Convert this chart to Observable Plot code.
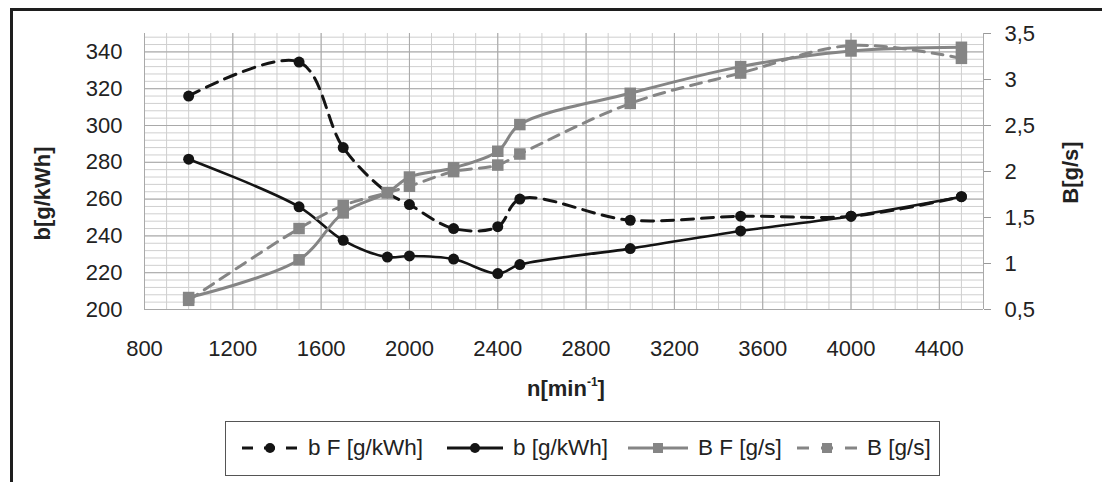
<!DOCTYPE html>
<html>
<head>
<meta charset="utf-8">
<script src="https://cdn.jsdelivr.net/npm/d3@7"></script>
<script src="https://cdn.jsdelivr.net/npm/@observablehq/plot@0.6"></script>
<style>
  body { margin: 0; background: #fff; font-family: "Liberation Sans", Arial, sans-serif; }
  #wrap { position: relative; width: 1102px; height: 482px; overflow: hidden; background: #fff; }
  #frame { position: absolute; left: 10px; top: 8px; width: 1200px; height: 600px;
           border-top: 3px solid #1e1e1e; border-left: 3px solid #1e1e1e; }
  #chart { position: absolute; left: 0; top: 0; }
  #xlabel { position: absolute; left: 466px; width: 200px; top: 376px; text-align: center;
            font-weight: bold; font-size: 22px; color: #222; }
  #xlabel sup { font-size: 12px; position: relative; top: -2px; }
  #legend { position: absolute; left: 225px; top: 421px; width: 715px; height: 55px;
            box-sizing: border-box; border: 1.5px solid #555; background: #fff; }
  .li { position: absolute; top: 0; height: 52px; display: flex; align-items: center;
        font-size: 22.5px; color: #222; white-space: nowrap; }
  .li svg { margin-right: 10px; }
</style>
</head>
<body>
<div id="wrap">
  <div id="frame"></div>
  <div id="chart"></div>
  <div id="xlabel">n[min<sup>-1</sup>]</div>
  <div id="legend"></div>
</div>
<script>
// ---- data ----
const rpm = [1000, 1500, 1700, 1900, 2000, 2200, 2400, 2500, 3000, 3500, 4000, 4500];
const bF  = [316, 334.5, 288, 263.5, 257, 244, 245, 260, 248.5, 250.7, 250.7, 261.3];
const b   = [281.7, 255.8, 237.6, 228.5, 229.1, 227.4, 219.5, 224.4, 233.1, 242.7, 250.7, 261.3];
const BF  = [0.63, 1.04, 1.55, 1.77, 1.94, 2.04, 2.22, 2.51, 2.85, 3.14, 3.31, 3.35];
const B   = [0.60, 1.38, 1.63, 1.77, 1.84, 2.00, 2.07, 2.19, 2.74, 3.07, 3.37, 3.23];

const xTicks = [800, 1200, 1600, 2000, 2400, 2800, 3200, 3600, 4000, 4400];
const leftTicks = [200, 220, 240, 260, 280, 300, 320, 340];
const rightTicks = [0.5, 1, 1.5, 2, 2.5, 3, 3.5];
const rightTickLabels = ["0,5", "1", "1,5", "2", "2,5", "3", "3,5"];
const seriesNames = ["b F [g/kWh]", "b [g/kWh]", "B F [g/s]", "B [g/s]"];
const leftTitle = "b[g/kWh]";
const rightTitle = "B[g/s]";

// secondary axis (B, 0.5..3.5) mapped onto primary (b, 200..350)
const toLeft = v => 200 + (v - 0.5) * 50;

const rows = rpm.map((n, i) => ({ n, bF: bF[i], b: b[i], BF: toLeft(BF[i]), B: toLeft(B[i]) }));

const minorX = d3.range(800, 4601, 100);
const minorY = d3.range(200, 349, 4);

const black = "#141414";
const gray = "#858585";

const chart = Plot.plot({
  width: 1102,
  height: 410,
  marginLeft: 144,
  marginRight: 119,
  marginTop: 33,
  marginBottom: 101,
  x: { domain: [800, 4600] },
  y: { domain: [200, 350] },
  style: { fontFamily: "Liberation Sans, Arial, sans-serif", fontSize: "22px", color: "#222", background: "transparent" },
  marks: [
    Plot.gridX(minorX, { stroke: "#cfcfcf", strokeOpacity: 1, strokeWidth: 1 }),
    Plot.gridY(minorY, { stroke: "#cfcfcf", strokeOpacity: 1, strokeWidth: 1 }),
    Plot.gridX(xTicks.concat([4600]), { stroke: "#a9a9a9", strokeOpacity: 1, strokeWidth: 1 }),
    Plot.gridY(leftTicks, { stroke: "#a9a9a9", strokeOpacity: 1, strokeWidth: 1 }),
    Plot.axisX(xTicks, { tickSize: 0, tickPadding: 31, label: null, tickFormat: d => String(d) }),
    Plot.axisY(leftTicks, { anchor: "left", tickSize: 0, tickPadding: 22, label: null }),
    Plot.axisY(rightTicks.map(toLeft), { anchor: "right", tickSize: 7, stroke: "#999", tickPadding: 14, label: null,
      tickFormat: (d, i) => rightTickLabels[i] }),
    Plot.text([leftTitle], { frameAnchor: "left", textAnchor: "middle", dx: -102, dy: 22, rotate: -90, fontWeight: "bold", fontSize: 22, fill: "#222" }),
    Plot.text([rightTitle], { frameAnchor: "right", textAnchor: "middle", dx: 87, dy: 1, rotate: -90, fontWeight: "bold", fontSize: 22, fill: "#222" }),
    // primary series
    Plot.line(rows, { x: "n", y: "bF", stroke: black, strokeWidth: 3, strokeDasharray: "12,8", curve: "catmull-rom" }),
    Plot.dot(rows, { x: "n", y: "bF", r: 5.5, fill: black }),
    Plot.line(rows, { x: "n", y: "b", stroke: black, strokeWidth: 2.6, curve: "catmull-rom" }),
    Plot.dot(rows, { x: "n", y: "b", r: 5.5, fill: black }),
    // secondary series
    Plot.line(rows, { x: "n", y: "BF", stroke: gray, strokeWidth: 3, curve: "catmull-rom" }),
    Plot.dot(rows, { x: "n", y: "BF", symbol: "square", r: 6.5, fill: gray }),
    Plot.line(rows, { x: "n", y: "B", stroke: gray, strokeWidth: 3, strokeDasharray: "11,8", curve: "catmull-rom" }),
    Plot.dot(rows, { x: "n", y: "B", symbol: "square", r: 6.5, fill: gray })
  ]
});
document.getElementById("chart").appendChild(chart);

// ---- legend ----
const legendItems = [
  { name: seriesNames[0], color: black, dash: "11,11", marker: "circle", left: 16 },
  { name: seriesNames[1], color: black, dash: null, marker: "circle", left: 221 },
  { name: seriesNames[2], color: gray, dash: null, marker: "square", left: 402 },
  { name: seriesNames[3], color: gray, dash: "12,12", marker: "square", left: 571 }
];
const legend = document.getElementById("legend");
for (const it of legendItems) {
  const div = document.createElement("div");
  div.className = "li";
  div.style.left = it.left + "px";
  const w = it.marker === "circle" ? 56 : 60;
  const m = it.marker === "circle"
    ? `<circle cx="${w / 2}" cy="8" r="5" fill="${it.color}"/>`
    : `<rect x="${w / 2 - 5}" y="3" width="10" height="10" fill="${it.color}"/>`;
  div.innerHTML = `<svg width="${w}" height="16"><line x1="0" x2="${w}" y1="8" y2="8" stroke="${it.color}" stroke-width="3" ${it.dash ? `stroke-dasharray="${it.dash}"` : ""}/>${m}</svg><span>${it.name}</span>`;
  legend.appendChild(div);
}
</script>
</body>
</html>
